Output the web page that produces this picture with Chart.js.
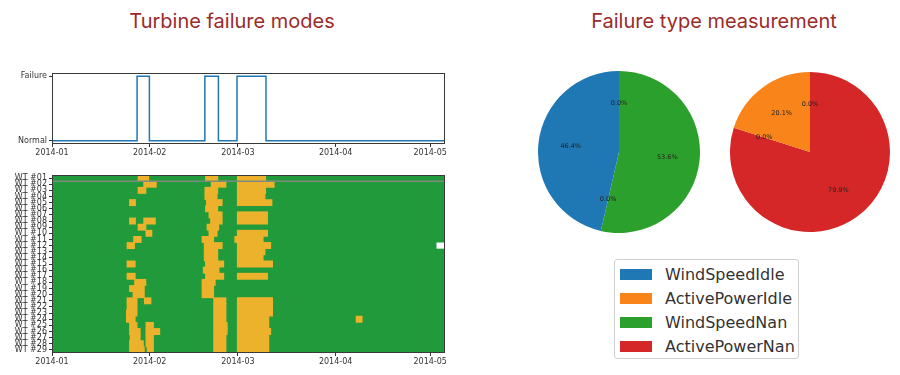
<!DOCTYPE html>
<html>
<head>
<meta charset="utf-8">
<script src="https://cdn.jsdelivr.net/npm/chart.js@4.4.1/dist/chart.umd.min.js"></script>
<style>
body { margin: 0; width: 900px; height: 375px; background: #fff; position: relative; overflow: hidden; font-family: "DejaVu Sans", sans-serif; }
.title { position: absolute; top: 7px; height: 28px; line-height: 28px; font-family: Inter, sans-serif; font-size: 20px; color: #9b2b2b; text-align: center; }
.box { position: absolute; }
#legend { position: absolute; left: 614px; top: 259px; width: 185px; height: 100px; border: 1px solid #d0d0d0; border-radius: 3px; box-sizing: border-box; padding-top: 2px; }
.leg-row { height: 24px; display: flex; align-items: center; font-size: 16px; color: #333; }
.leg-sw { width: 32px; height: 11px; margin-left: 5px; margin-right: 13px; }
</style>
</head>
<body>
<div class="title" style="left:82px;width:300px">Turbine failure modes</div>
<div class="title" style="left:564px;width:300px">Failure type measurement</div>
<div class="box" style="left:0;top:60px;width:460px;height:100px"><canvas id="stateChart"></canvas></div>
<div class="box" style="left:0;top:165px;width:460px;height:210px"><canvas id="heatChart"></canvas></div>
<div class="box" style="left:538px;top:71px;width:162px;height:162px"><canvas id="windPie"></canvas></div>
<div class="box" style="left:730px;top:72px;width:160px;height:160px"><canvas id="powerPie"></canvas></div>
<div id="legend"></div>
<script>
// days counted from 2014-01-01
const monthTicks = [0, 31, 59, 90, 120];
const monthLabels = ['2014-01', '2014-02', '2014-03', '2014-04', '2014-05'];
const dayMax = 124.7;

const stateLabels = ['Normal', 'Failure'];
const stepDays  = [0, 27.0, 30.9, 48.5, 52.8, 58.7, 67.9, 124.7];
const stepState = [0, 1, 0, 1, 0, 1, 0, 0];

const turbines = ['WT #01','WT #02','WT #03','WT #04','WT #05','WT #06','WT #07','WT #08','WT #09','WT #10',
  'WT #11','WT #12','WT #13','WT #14','WT #15','WT #16','WT #17','WT #18','WT #19','WT #20',
  'WT #21','WT #22','WT #23','WT #24','WT #25','WT #26','WT #27','WT #28','WT #29'];

// failure spans [start, end] per turbine
const failSpans = [
  [[27.3,30.7],[48.7,52.6],[58.8,67.8]],
  [[29.1,33.1],[50.5,55.2],[58.8,70.5]],
  [[27.3,29.8],[48.5,52.6],[58.8,67.8]],
  [[48.5,52.4],[58.8,67.6]],
  [[24.6,26.5],[49.0,54.0],[58.8,69.8]],
  [[48.7,52.6]],
  [[49.8,54.0],[58.8,68.4]],
  [[24.6,26.5],[29.1,32.8],[50.3,54.0],[58.8,68.4]],
  [[27.3,29.8],[49.2,52.9]],
  [[29.8,31.7],[49.8,52.4],[58.8,68.4]],
  [[25.9,28.3],[47.6,51.3],[58.0,67.0]],
  [[23.8,26.2],[48.3,54.0],[58.8,69.4]],
  [[48.3,52.6],[58.8,67.6]],
  [[48.3,52.6],[58.8,67.0]],
  [[23.8,26.4],[48.7,54.5],[58.8,70.0]],
  [[48.0,53.0]],
  [[23.8,26.4],[48.7,54.5],[58.8,68.4]],
  [[26.2,29.8],[47.6,51.8]],
  [[24.6,29.3],[47.6,51.3]],
  [[25.7,29.3],[47.6,51.3]],
  [[23.8,27.0],[29.3,31.4],[51.3,55.2],[58.8,70.0]],
  [[23.8,27.0],[51.3,55.2],[58.8,70.0]],
  [[23.6,27.0],[51.3,55.2],[58.8,70.0]],
  [[23.6,26.4],[51.3,55.2],[58.8,68.8],[96.5,98.4]],
  [[24.6,27.0],[29.8,32.2],[51.3,55.6],[58.8,68.8]],
  [[24.6,28.0],[29.8,34.2],[51.3,55.6],[58.8,69.4]],
  [[24.8,28.0],[29.8,32.2],[51.3,55.2],[58.8,68.8]],
  [[24.6,29.0],[29.8,32.2],[51.3,55.2],[58.8,68.8]],
  [[24.6,29.3],[30.2,32.2],[51.3,55.2],[58.8,68.8]]
];
const missingTurbine = 'WT #12';
const missingSpan = [122.0, 124.7];

const modeNames  = ['WindSpeedIdle', 'ActivePowerIdle', 'WindSpeedNan', 'ActivePowerNan'];
const modeColors = ['#1f77b4', '#f8841a', '#2ca02c', '#d62728'];
const windShare  = [46.4, 0.0, 53.6, 0.0];
const powerShare = [0.0, 20.1, 0.0, 79.9];

const axisFont = {family: 'DejaVu Sans', size: 8};
const ink = '#333';

const frame = {
  id: 'frame',
  afterDraw(chart) {
    const {left, top, right, bottom} = chart.chartArea;
    const ctx = chart.ctx;
    ctx.save();
    ctx.strokeStyle = '#3a3a3a';
    ctx.lineWidth = 1;
    ctx.strokeRect(Math.round(left) + 0.5, Math.round(top) + 0.5, Math.round(right - left) - 1, Math.round(bottom - top) - 1);
    ctx.restore();
  }
};

function monthAxis() {
  return {
    type: 'linear', min: 0, max: dayMax,
    afterBuildTicks: s => { s.ticks = monthTicks.map(v => ({value: v})); },
    ticks: {font: axisFont, color: ink, padding: 1, autoSkip: false, maxRotation: 0,
      callback: v => monthLabels[monthTicks.indexOf(v)]},
    grid: {display: true, drawOnChartArea: false, tickLength: 3, color: ink},
    border: {display: false}
  };
}

// top: step line of failure state
const stateX = monthAxis();
stateX.afterFit = s => { s.height = 16; };
new Chart(document.getElementById('stateChart'), {
  type: 'line',
  data: {datasets: [{
    data: stepDays.map((d, i) => ({x: d, y: stepState[i]})),
    stepped: true, borderColor: '#1f77b4', borderWidth: 1.5, pointRadius: 0, fill: false
  }]},
  options: {
    responsive: true, maintainAspectRatio: false, animation: false,
    layout: {padding: {top: 13, right: 15, left: 0, bottom: 0}},
    plugins: {legend: {display: false}, tooltip: {enabled: false}},
    scales: {
      x: stateX,
      y: {
        type: 'linear', min: -0.05, max: 1.05,
        afterBuildTicks: s => { s.ticks = [{value: 0}, {value: 1}]; },
        afterFit: s => { s.width = 52; },
        ticks: {font: axisFont, color: ink, padding: 2, callback: v => stateLabels[v]},
        grid: {display: true, drawOnChartArea: false, tickLength: 3, color: ink},
        border: {display: false}
      }
    }
  },
  plugins: [frame]
});

// bottom: turbine x time heatmap
const rowSplit = {
  id: 'rowSplit',
  afterDatasetsDraw(chart) {
    const ys = chart.scales.y, {left, right} = chart.chartArea;
    const y = ys.getPixelForValue(0.5);
    const ctx = chart.ctx;
    ctx.save();
    ctx.strokeStyle = '#7d8a7d';
    ctx.lineWidth = 1.5;
    ctx.beginPath(); ctx.moveTo(left, y); ctx.lineTo(right, y); ctx.stroke();
    ctx.restore();
  }
};
const heatX = monthAxis();
heatX.afterFit = s => { s.height = 22; };
const barBase = {grouped: false, barPercentage: 1, categoryPercentage: 1, borderWidth: 0};
new Chart(document.getElementById('heatChart'), {
  type: 'bar',
  data: {
    labels: turbines,
    datasets: [
      Object.assign({order: 0, backgroundColor: '#edb22b', inflateAmount: 0.4,
        data: failSpans.flatMap((spans, i) => spans.map(s => ({x: s, y: turbines[i]})))}, barBase),
      Object.assign({order: 1, backgroundColor: '#ffffff', inflateAmount: 0,
        data: [{x: missingSpan, y: missingTurbine}]}, barBase),
      Object.assign({order: 2, backgroundColor: '#219a3b', inflateAmount: 0.8,
        data: turbines.map(t => ({x: [0, dayMax], y: t}))}, barBase)
    ]
  },
  options: {
    indexAxis: 'y',
    responsive: true, maintainAspectRatio: false, animation: false,
    layout: {padding: {top: 10, right: 15, left: 0, bottom: 0}},
    plugins: {legend: {display: false}, tooltip: {enabled: false}},
    scales: {
      x: heatX,
      y: {
        type: 'category',
        afterFit: s => { s.width = 52; },
        ticks: {font: axisFont, color: ink, padding: 2, autoSkip: false},
        grid: {display: true, drawOnChartArea: false, tickLength: 3, color: ink, offset: false},
        border: {display: false}
      }
    }
  },
  plugins: [rowSplit, frame]
});

// pies: counter-clockwise from the top, so feed Chart.js the reversed order
const pctLabels = {
  id: 'pctLabels',
  afterDatasetsDraw(chart) {
    const meta = chart.getDatasetMeta(0);
    const vals = chart.data.datasets[0].data;
    const total = vals.reduce((a, b) => a + b, 0);
    const ctx = chart.ctx;
    ctx.save();
    ctx.font = '6.5px "DejaVu Sans"';
    ctx.fillStyle = '#222';
    ctx.textAlign = 'center';
    ctx.textBaseline = 'middle';
    meta.data.forEach((arc, i) => {
      const p = arc.getProps(['x', 'y', 'startAngle', 'endAngle', 'outerRadius'], true);
      const mid = (p.startAngle + p.endAngle) / 2;
      const r = p.outerRadius * 0.6;
      ctx.fillText((vals[i] / total * 100).toFixed(1) + '%', p.x + Math.cos(mid) * r, p.y + Math.sin(mid) * r);
    });
    ctx.restore();
  }
};
function pie(id, share) {
  new Chart(document.getElementById(id), {
    type: 'pie',
    data: {
      labels: modeNames.slice().reverse(),
      datasets: [{data: share.slice().reverse(), backgroundColor: modeColors.slice().reverse(), borderWidth: 0}]
    },
    options: {
      responsive: true, maintainAspectRatio: false, animation: false,
      plugins: {legend: {display: false}, tooltip: {enabled: false}}
    },
    plugins: [pctLabels]
  });
}
pie('windPie', windShare);
pie('powerPie', powerShare);

const legend = document.getElementById('legend');
legend.innerHTML = modeNames.map((n, i) =>
  `<div class="leg-row"><span class="leg-sw" style="background:${modeColors[i]}"></span><span>${n}</span></div>`
).join('');
</script>
</body>
</html>
